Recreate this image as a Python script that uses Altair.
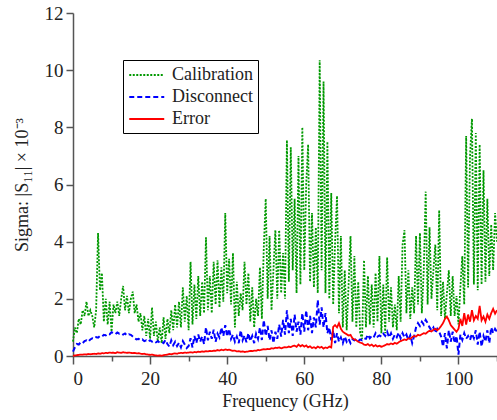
import altair as alt
import pandas as pd

# Frequency grid (GHz), 0.5 GHz spacing from 0 to 110
freq = [i * 0.5 for i in range(221)]

calibration = [
    0.5, 1.0, 0.8, 1.3, 1.1, 1.6, 1.4, 1.9, 1.4, 1.6,
    1.4, 1.0, 1.6, 4.3, 2.3, 2.9, 1.2, 2.0, 1.1, 1.9,
    0.85, 1.8, 1.5, 1.9, 1.4, 2.0, 2.45, 1.6, 2.1, 1.5,
    2.0, 2.25, 1.5, 1.8, 1.2, 1.5, 0.9, 1.4, 0.7, 1.3,
    0.6, 1.7, 0.7, 1.2, 0.5, 1.0, 0.45, 1.35, 0.6, 1.3,
    0.8, 1.6, 0.9, 1.8, 1.0, 1.9, 1.0, 2.4, 1.2, 2.1,
    0.9, 3.3, 1.1, 2.5, 1.3, 2.8, 1.4, 2.6, 1.5, 4.15,
    1.6, 2.8, 1.5, 3.3, 1.8, 3.35, 1.7, 3.1, 1.9, 5.0,
    2.2, 3.4, 1.8, 3.6, 1.0, 2.6, 1.4, 2.2, 1.6, 3.3,
    1.8, 2.9, 1.2, 2.4, 1.0, 2.0, 1.4, 3.1, 1.3, 3.8,
    5.5, 2.0, 4.2, 1.6, 3.0, 4.4, 2.0, 4.4, 2.2, 3.6,
    2.0, 7.55, 2.6, 7.3, 3.0, 5.5, 2.2, 7.0, 2.5, 8.0,
    3.0, 6.0, 7.4, 2.6, 5.0, 2.4, 4.5, 2.2, 10.35, 3.0,
    9.6, 2.2, 7.5, 2.0, 5.7, 1.8, 4.0, 5.6, 1.5, 4.2,
    1.0, 3.0, 0.9, 2.5, 4.2, 1.2, 3.5, 1.0, 2.6, 0.8,
    0.6, 3.35, 1.0, 2.8, 1.1, 2.5, 1.0, 2.9, 1.2, 3.5,
    0.8, 2.5, 0.8, 3.45, 1.2, 2.4, 1.0, 1.8, 0.9, 2.8,
    1.2, 3.9, 4.4, 1.5, 3.0, 1.3, 2.4, 1.5, 4.2, 1.8,
    4.3, 1.5, 3.0, 5.75, 1.8, 4.5, 2.0, 3.0, 3.9, 1.6,
    5.1, 1.4, 2.6, 1.3, 2.2, 3.0, 1.4, 2.8, 1.4, 2.1,
    1.1, 2.4, 3.5, 1.8, 7.7, 2.4, 7.0, 8.3, 2.5, 7.8,
    2.3, 7.4, 2.5, 6.5, 2.6, 5.5, 2.8, 4.6, 3.0, 5.0, 4.0,
]

disconnect = [
    0.15, 0.30, 0.42, 0.40, 0.48, 0.45, 0.52, 0.55, 0.50, 0.58,
    0.62, 0.60, 0.66, 0.64, 0.70, 0.68, 0.74, 0.72, 0.78, 0.76,
    0.83, 0.80, 0.76, 0.82, 0.78, 0.80, 0.75, 0.79, 0.72, 0.76,
    0.74, 0.68, 0.62, 0.58, 0.60, 0.55, 0.58, 0.52, 0.55, 0.50,
    0.55, 0.50, 0.53, 0.48, 0.52, 0.47, 0.50, 0.45, 0.56, 0.42,
    0.33, 0.55, 0.38, 0.50, 0.35, 0.46, 0.30, 0.52, 0.40, 0.28,
    0.35, 0.62, 0.30, 0.70, 0.45, 0.75, 0.50, 0.68, 0.42, 1.00,
    0.55, 0.85, 0.60, 0.92, 0.50, 0.78, 0.65, 1.00, 0.70, 1.08,
    0.68, 0.95, 0.60, 0.75, 0.50, 0.68, 0.45, 0.90, 0.55, 0.72,
    0.48, 0.80, 0.52, 0.70, 0.45, 0.78, 0.60, 1.00, 0.56, 1.26,
    0.70, 1.05, 0.55, 0.90, 0.45, 0.85, 0.60, 1.10, 0.68, 1.26,
    0.75, 1.60, 0.80, 1.30, 0.70, 1.45, 0.85, 1.20, 0.75, 1.50,
    0.85, 1.60, 0.90, 1.40, 0.80, 1.35, 1.00, 1.96, 1.10, 1.70,
    1.00, 1.50, 0.80, 1.00, 0.55, 0.90, 0.45, 0.80, 0.50, 0.65,
    0.45, 0.68, 0.50, 0.60, 0.45, 0.58, 0.55, 0.60, 0.52, 0.58,
    0.55, 0.62, 0.60, 0.75, 0.62, 0.70, 0.65, 0.80, 0.68, 0.72,
    0.68, 0.78, 0.70, 0.85, 0.65, 0.80, 0.60, 0.75, 0.66, 0.82,
    0.62, 0.80, 0.65, 0.75, 0.56, 0.72, 0.45, 0.70, 1.00, 1.15,
    1.05, 1.20, 1.10, 1.26, 1.15, 1.00, 0.90, 1.00, 0.80, 0.95,
    0.85, 0.68, 0.33, 0.80, 0.27, 0.90, 0.50, 0.85, 0.45, 0.70,
    0.05, 0.75, 0.56, 0.80, 0.60, 0.70, 0.56, 0.78, 0.62, 0.90,
    0.40, 0.85, 0.33, 0.70, 0.50, 0.90, 0.45, 1.00, 0.80, 0.95, 0.85,
]

error = [
    0.00, 0.02, 0.03, 0.04, 0.05, 0.05, 0.06, 0.05, 0.07, 0.06,
    0.07, 0.08, 0.07, 0.09, 0.08, 0.10, 0.09, 0.11, 0.10, 0.12,
    0.11, 0.12, 0.10, 0.13, 0.12, 0.11, 0.13, 0.12, 0.11, 0.12,
    0.11, 0.10, 0.11, 0.09, 0.10, 0.08, 0.07, 0.08, 0.06, 0.05,
    0.04, 0.05, 0.03, 0.02, 0.01, 0.02, 0.01, 0.03, 0.04, 0.05,
    0.07, 0.06, 0.08, 0.09, 0.08, 0.10, 0.11, 0.10, 0.12, 0.11,
    0.12, 0.13, 0.12, 0.14, 0.13, 0.15, 0.14, 0.16, 0.15, 0.17,
    0.16, 0.18, 0.17, 0.19, 0.18, 0.21, 0.19, 0.22, 0.20, 0.23,
    0.21, 0.22, 0.20, 0.18, 0.19, 0.16, 0.17, 0.15, 0.16, 0.14,
    0.15, 0.16, 0.18, 0.17, 0.19, 0.18, 0.21, 0.20, 0.22, 0.24,
    0.23, 0.25, 0.24, 0.27, 0.26, 0.29, 0.28, 0.30, 0.27, 0.29,
    0.31, 0.30, 0.33, 0.31, 0.35, 0.36, 0.32, 0.40, 0.34, 0.38,
    0.33, 0.37, 0.30, 0.34, 0.28, 0.31, 0.27, 0.33, 0.29, 0.32,
    0.26, 0.30, 0.28, 0.33, 0.30, 1.02, 1.08, 1.00, 1.15, 0.95,
    0.85, 0.80, 0.76, 0.72, 0.74, 0.62, 0.58, 0.55, 0.50, 0.47,
    0.45, 0.40, 0.38, 0.42, 0.36, 0.40, 0.34, 0.38, 0.33, 0.36,
    0.32, 0.35, 0.38, 0.42, 0.40, 0.44, 0.41, 0.46, 0.43, 0.48,
    0.52, 0.55, 0.58, 0.56, 0.62, 0.60, 0.66, 0.70, 0.68, 0.74,
    0.72, 0.76, 0.80, 0.78, 0.84, 0.88, 0.86, 0.92, 0.95, 0.90,
    0.96, 1.05, 1.15, 1.30, 1.38, 1.25, 1.08, 1.00, 0.92, 0.85,
    0.95, 1.30, 1.05, 1.50, 1.10, 1.45, 1.20, 1.60, 1.25, 1.40,
    1.30, 1.75, 1.25, 1.38, 1.20, 1.45, 1.30, 1.50, 1.65, 1.48, 1.60,
]

series_names = ["Calibration", "Disconnect", "Error"]
series_colors = ["#009900", "#0000ff", "#ff0000"]
series_dashes = [[2, 1.5], [5, 3], [1, 0]]
major_ticks = [0, 20, 40, 60, 80, 100]
minor_ticks = [10, 30, 50, 70, 90, 110]
y_ticks = [0, 2, 4, 6, 8, 10, 12]

rows = []
for name, vals in zip(series_names, [calibration, disconnect, error]):
    for f, v in zip(freq, vals):
        rows.append({"freq": f, "value": v, "series": name})
df = pd.DataFrame(rows)

FONT = "Liberation Serif"

legend = alt.Legend(title=None)
color_enc = alt.Color(
    "series:N",
    scale=alt.Scale(domain=series_names, range=series_colors),
    legend=legend,
)
dash_enc = alt.StrokeDash(
    "series:N",
    scale=alt.Scale(domain=series_names, range=series_dashes),
    legend=legend,
)
y_enc = alt.Y(
    "value:Q",
    scale=alt.Scale(domain=[0, 12], nice=False),
    axis=alt.Axis(values=y_ticks, title="Sigma: |S₁₁| × 10⁻³", tickSize=7,
                  labelPadding=3, titlePadding=13, grid=False),
)

def layer(name, x_axis, width):
    return (
        alt.Chart(df)
        .transform_filter(alt.datum.series == name)
        .mark_line(strokeWidth=width)
        .encode(
            x=alt.X("freq:Q", scale=alt.Scale(domain=[0, 110], nice=False), axis=x_axis),
            y=y_enc,
            color=color_enc,
            strokeDash=dash_enc,
        )
    )

main_axis = alt.Axis(values=major_ticks, title="Frequency (GHz)", orient="bottom",
                     tickSize=8, labelPadding=5, titlePadding=4, grid=False)
minor_axis = alt.Axis(values=minor_ticks, title="", orient="bottom", tickSize=5,
                      labels=False, domain=False, grid=False)

chart = (
    alt.layer(
        layer("Calibration", main_axis, 1.8),
        layer("Disconnect", minor_axis, 2.0),
        layer("Error", None, 1.8),
    )
    .resolve_axis(x="independent")
    .properties(
        width=424,
        height=343,
        autosize=alt.AutoSizeParams(type="none"),
        padding={"left": 73, "top": 13, "right": 0, "bottom": 64},
    )
    .configure_view(stroke=None)
    .configure_axis(
        labelFont=FONT, labelFontSize=19, labelColor="#222222",
        titleFont=FONT, titleFontSize=18, titleFontWeight="normal", titleColor="#222222",
        domainColor="#555555", tickColor="#555555", domainWidth=1.5, tickWidth=1.5,
    )
    .configure_legend(
        orient="none", legendX=50, legendY=47,
        strokeColor="black", fillColor="white", padding=5,
        symbolType="M-1,0H3", symbolSize=306, symbolStrokeWidth=2,
        labelFont=FONT, labelFontSize=18, labelColor="#222222", labelOffset=24,
        rowPadding=3, cornerRadius=0,
    )
)

chart.save("out.html", embed_options={"renderer": "svg", "actions": False})
